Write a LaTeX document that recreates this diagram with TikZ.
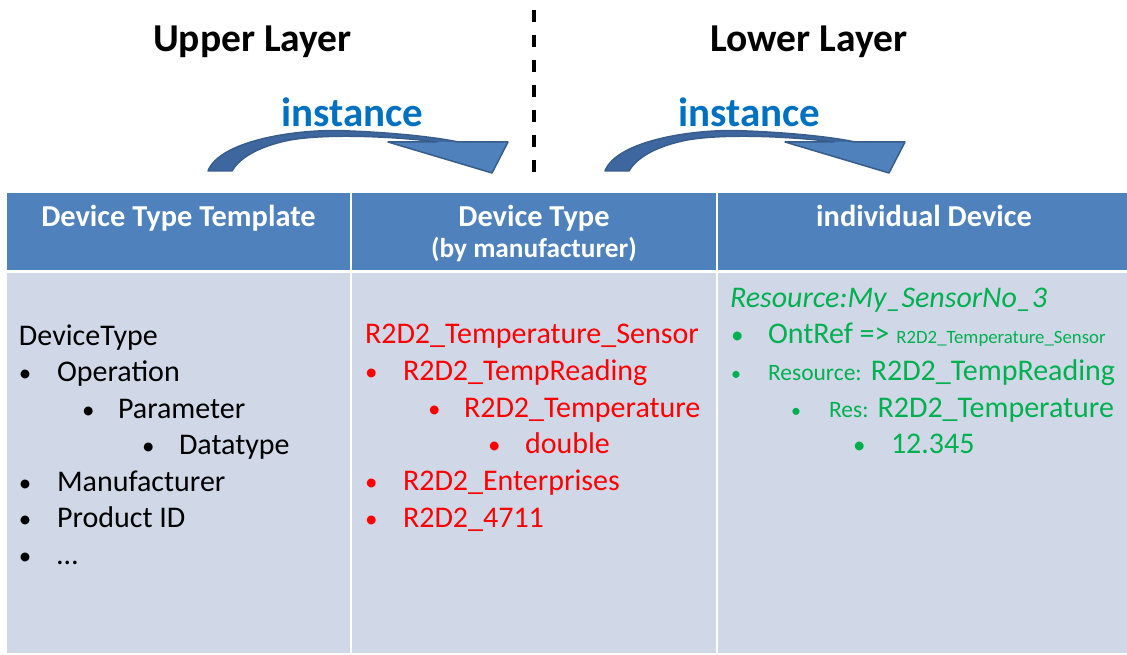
\documentclass[tikz,border=0pt]{standalone}
\usepackage{fontspec}
\setmainfont{Carlito}
\newcommand{\fsz}[1]{\fontsize{#1}{#1}\selectfont}
\definecolor{hdrblue}{RGB}{79,129,189}
\definecolor{bodyfill}{RGB}{208,216,232}
\definecolor{instblue}{RGB}{0,112,192}
\definecolor{arrline}{RGB}{56,93,138}
\definecolor{shaftfill}{RGB}{62,103,160}
\definecolor{tred}{RGB}{255,0,0}
\definecolor{tgreen}{RGB}{0,176,80}
\begin{document}
\begin{tikzpicture}[x=1pt,y=-1pt,
  txt/.style={anchor=base west, inner sep=0pt, outer sep=0pt, font=\fsz{30}},
  bul/.style={txt, font=\fsz{25}},
  ctxt/.style={anchor=base, inner sep=0pt, outer sep=0pt},
  hdrcell/.style={fill=hdrblue, draw=none, inner sep=0pt, minimum height=77pt},
  bodycell/.style={fill=bodyfill, draw=none, inner sep=0pt, minimum height=380pt},
  hdrtxt/.style={ctxt, text=white, font=\bfseries\fsz{30.4}},
  layertxt/.style={ctxt, font=\bfseries\fsz{39.5}},
  insttxt/.style={ctxt, text=instblue, font=\bfseries\fsz{41}},
  dashline/.style={draw=black, line width=4pt, dash pattern=on 12pt off 13pt},
  shaftstyle/.style={fill=shaftfill, draw=none},
  headstyle/.style={fill=hdrblue, draw=none},
  arroutline/.style={draw=arrline, line width=1.5pt, line join=round},
  redt/.style={txt, text=tred},
  redb/.style={bul, text=tred},
  greent/.style={txt, text=tgreen},
  greenb/.style={bul, text=tgreen}
]
\useasboundingbox (0,0) rectangle (1127,655);

% titles
\node[layertxt] (upper) at (252.5,52) {Upper Layer};
\node[layertxt] (lower) at (809,52) {Lower Layer};
\coordinate (dtop) at (534,10);
\coordinate (dbot) at (534,172);
\draw[dashline] (dtop) -- (dbot);

% instance labels
\node[insttxt] (inst1) at (352.5,127) {instance};
\node[insttxt] (inst2) at (749.5,127) {instance};

% curved arrows
\foreach \sx/\nm in {0/a, 397/b}{
\begin{scope}[xshift=\sx pt]
  \fill[shaftstyle] (208,171) .. controls (220,140) and (300,128) .. (350,131)
     .. controls (400,133) and (440,138) .. (458,142) -- (437,142)
     .. controls (400,137) and (330,133) .. (290,140)
     .. controls (255,147) and (238,160) .. (232,171) -- cycle;
  \fill[headstyle] (388,142) -- (508,142) -- (492,173) -- cycle;
  \draw[arroutline] (208,171) .. controls (220,140) and (300,128) .. (350,131)
     .. controls (400,133) and (440,138) .. (458,142) -- (508,142) -- (492,173)
     -- (388,142) -- (437,142)
     .. controls (400,137) and (330,133) .. (290,140)
     .. controls (255,147) and (238,160) .. (232,171) -- cycle;
\end{scope}
}

% table cells
\node[hdrcell, minimum width=343pt] (h1) at (178.5,231.5) {};
\node[hdrcell, minimum width=364pt] (h2) at (534,231.5) {};
\node[hdrcell, minimum width=409pt] (h3) at (922.5,231.5) {};
\node[bodycell, minimum width=343pt] (b1) at (178.5,463) {};
\node[bodycell, minimum width=364pt] (b2) at (534,463) {};
\node[bodycell, minimum width=409pt] (b3) at (922.5,463) {};

% header texts
\node[hdrtxt] (t1) at (178.5,227) {Device Type Template};
\node[hdrtxt] (t2) at (534,227) {Device Type};
\node[ctxt, text=white, font=\bfseries\fsz{27.3}] (t2b) at (534,258) {(by manufacturer)};
\node[hdrtxt] (t3) at (924,227) {individual Device};

% column 1
\node[txt] (c1r0) at (19,345) {DeviceType};
\node[bul] (c1b1) at (19,381.5) {•};
\node[txt] (c1r1) at (57,381.5) {Operation};
\node[bul] (c1b2) at (82,418) {•};
\node[txt] (c1r2) at (118,418) {Parameter};
\node[bul] (c1b3) at (142,454.5) {•};
\node[txt] (c1r3) at (179,454.5) {Datatype};
\node[bul] (c1b4) at (19,491) {•};
\node[txt] (c1r4) at (57,491) {Manufacturer};
\node[bul] (c1b5) at (19,527.5) {•};
\node[txt] (c1r5) at (57,527.5) {Product ID};
\node[bul] (c1b6) at (19,564) {•};
\node[txt] (c1r6) at (57,564) {…};

% column 2
\node[redt] (c2r0) at (365,343) {R2D2\_Temperature\_Sensor};
\node[redb] (c2b1) at (365,380) {•};
\node[redt] (c2r1) at (403,380) {R2D2\_TempReading};
\node[redb] (c2b2) at (428,417) {•};
\node[redt] (c2r2) at (464,417) {R2D2\_Temperature};
\node[redb] (c2b3) at (488,453) {•};
\node[redt] (c2r3) at (525,453) {double};
\node[redb] (c2b4) at (365,490) {•};
\node[redt] (c2r4) at (403,490) {R2D2\_Enterprises};
\node[redb] (c2b5) at (365,527) {•};
\node[redt] (c2r5) at (403,527) {R2D2\_4711};

% column 3
\node[greent, font=\itshape\fsz{30}] (c3r0) at (730,307) {Resource:My\_SensorNo\_3};
\node[greenb] (c3b1) at (731,343) {•};
\node[greent] (c3r1) at (768,343) {OntRef => {\fsz{18.8}R2D2\_Temperature\_Sensor}};
\node[greenb, font=\fsz{20}] (c3b2) at (731,380) {•};
\node[greent] (c3r2) at (768,380) {{\fsz{23.5}Resource:} R2D2\_TempReading};
\node[greenb, font=\fsz{20}] (c3b3) at (791,417) {•};
\node[greent] (c3r3) at (829,417) {{\fsz{23.5}Res:} R2D2\_Temperature};
\node[greenb] (c3b4) at (853,453) {•};
\node[greent] (c3r4) at (891,453) {12.345};
\end{tikzpicture}
\end{document}
